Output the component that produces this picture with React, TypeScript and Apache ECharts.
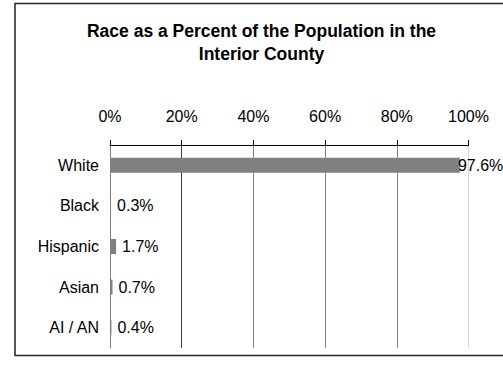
import React, { useEffect, useRef } from "react";
import * as echarts from "echarts";

const categories = ["White", "Black", "Hispanic", "Asian", "AI / AN"];
const percents = [97.6, 0.3, 1.7, 0.7, 0.4];
const tickValues = [0, 20, 40, 60, 80, 100];
const titleText = "Race as a Percent of the Population in the\nInterior County";

export default function App() {
  const ref = useRef<HTMLDivElement>(null);
  useEffect(() => {
    if (!ref.current) return;
    const chart = echarts.init(ref.current, null, { renderer: "svg" });
    const font = "'Liberation Sans', Arial, sans-serif";
    chart.setOption({
      animation: false,
      backgroundColor: "#fff",
      textStyle: { fontFamily: font },
      title: {
        text: titleText,
        left: 261.5,
        top: 19,
        padding: 0,
        textAlign: "center",
        textStyle: { fontFamily: font, fontSize: 17.5, fontWeight: "bold", color: "#000", lineHeight: 23.5 },
      },
      graphic: [
        {
          type: "rect",
          shape: { x: 15, y: 3.5, width: 500, height: 352 },
          style: { fill: "none", stroke: "#222", lineWidth: 1.5 },
          silent: true,
        },
      ],
      grid: { left: 110, right: 34.5, top: 145, height: 203, containLabel: false },
      xAxis: {
        type: "value",
        position: "top",
        min: tickValues[0],
        max: tickValues[tickValues.length - 1],
        interval: tickValues[1] - tickValues[0],
        axisLine: { show: true, lineStyle: { color: "#000", width: 1 } },
        axisTick: { show: true, length: 5, inside: false, lineStyle: { color: "#000" } },
        axisLabel: { formatter: "{value}%", fontSize: 16, color: "#000", margin: 21, fontFamily: font },
        splitLine: {
          show: true,
          lineStyle: { color: ["#808080", "#404040", "#808080", "#808080", "#808080", "#d4d4d4"], width: 1 },
        },
      },
      yAxis: {
        type: "category",
        inverse: true,
        data: categories,
        axisLine: { show: true, lineStyle: { color: "#808080", width: 1 } },
        axisTick: { show: false },
        axisLabel: { fontSize: 16, color: "#000", margin: 11, fontFamily: font },
      },
      series: [
        {
          type: "bar",
          data: percents.map((v) => (v > 90 ? { value: v, label: { distance: -2 } } : v)),
          barWidth: 15,
          itemStyle: { color: "#808080" },
          label: {
            show: true,
            position: "right",
            distance: 6,
            formatter: "{c}%",
            fontSize: 16,
            color: "#000",
            fontFamily: font,
          },
        },
      ],
    });
    return () => chart.dispose();
  }, []);
  return (
    <div
      ref={ref}
      style={{ position: "absolute", left: 0, top: 0, width: 503, height: 365 }}
    />
  );
}
